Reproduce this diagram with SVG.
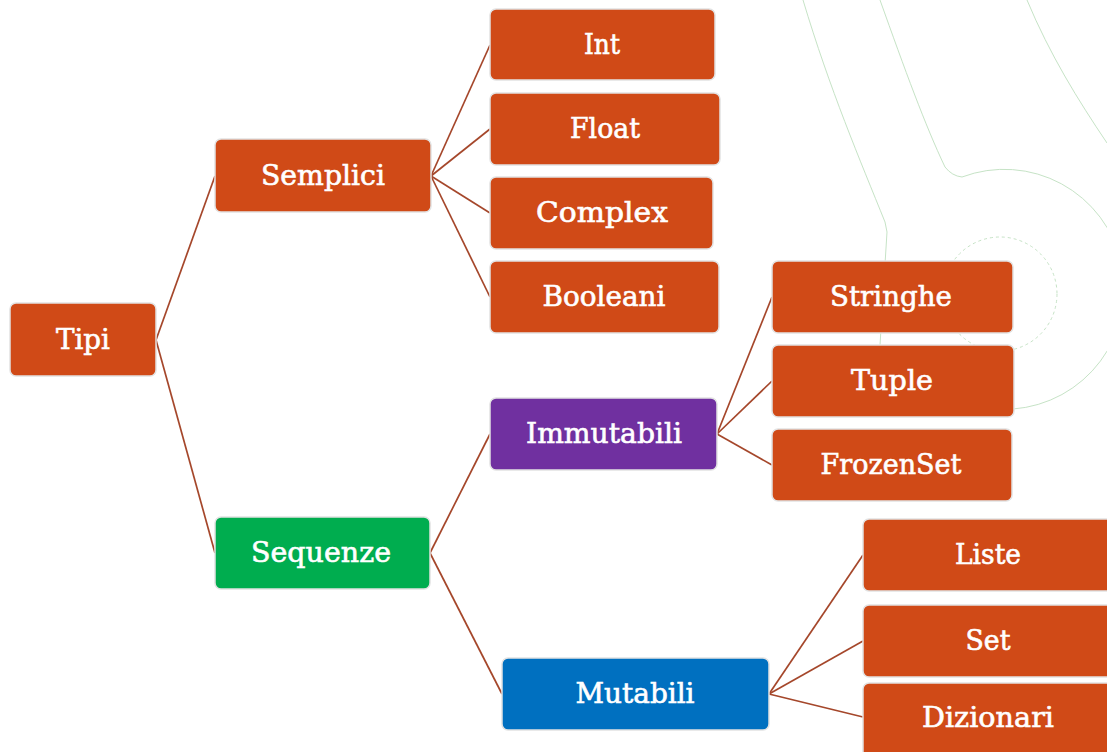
<svg xmlns="http://www.w3.org/2000/svg" width="1107" height="752" viewBox="0 0 1107 752">
<style>
.n rect{stroke:#e2e2e2;stroke-width:1.5}
.o{fill:#d04a17}
.g{fill:#00ad4f}
.p{fill:#7030a0}
.b{fill:#0070c0}
.n text{fill:#ffffff;stroke:#ffffff;stroke-width:0.6;font-family:"DejaVu Serif","Liberation Serif",serif;font-size:27px;text-anchor:middle}
#connectors line{stroke:#a5472b;stroke-width:1.7}
.bg{fill:none;stroke:#c6e3c6;stroke-width:1}
</style>
<rect width="1107" height="752" fill="#ffffff"/>
<g id="background">
<path class="bg" d="M803,0 C830,90 860,160 885,222 L887,232 L880,345"/>
<path class="bg" d="M880,0 C905,70 925,125 945,167 Q952,176 962,177 A120,120 0 1 1 1013,409"/>
<path class="bg" d="M1027,0 C1050,55 1078,100 1107,143"/>
<circle class="bg" cx="1000" cy="294" r="57" stroke-dasharray="3 3"/>
</g>
<g id="connectors">
<line x1="156" y1="340" x2="215" y2="176"/>
<line x1="156" y1="340" x2="215" y2="553"/>
<line x1="431" y1="176" x2="490" y2="45"/>
<line x1="431" y1="176" x2="490" y2="129"/>
<line x1="431" y1="176" x2="490" y2="213"/>
<line x1="431" y1="176" x2="490" y2="297"/>
<line x1="430" y1="553" x2="490" y2="434"/>
<line x1="430" y1="553" x2="502" y2="694"/>
<line x1="717" y1="434" x2="772" y2="297"/>
<line x1="717" y1="434" x2="772" y2="381"/>
<line x1="717" y1="434" x2="772" y2="465"/>
<line x1="769" y1="694" x2="863" y2="555"/>
<line x1="769" y1="694" x2="863" y2="641"/>
<line x1="769" y1="694" x2="863" y2="717"/>
</g>
<g id="tipi" class="n"><rect class="o" x="10" y="303" width="146" height="73" rx="6"/><text x="83" y="349" textLength="54" lengthAdjust="spacingAndGlyphs">Tipi</text></g>
<g id="semplici" class="n"><rect class="o" x="215" y="139" width="216" height="73" rx="6"/><text x="323" y="185" textLength="124" lengthAdjust="spacingAndGlyphs">Semplici</text></g>
<g id="sequenze" class="n"><rect class="g" x="215" y="517" width="215" height="72" rx="6"/><text x="321" y="562" textLength="140" lengthAdjust="spacingAndGlyphs">Sequenze</text></g>
<g id="int" class="n"><rect class="o" x="490" y="9" width="225" height="71" rx="6"/><text x="602" y="54" textLength="36" lengthAdjust="spacingAndGlyphs">Int</text></g>
<g id="float" class="n"><rect class="o" x="490" y="93" width="230" height="72" rx="6"/><text x="605" y="138" textLength="70" lengthAdjust="spacingAndGlyphs">Float</text></g>
<g id="complex" class="n"><rect class="o" x="490" y="177" width="223" height="72" rx="6"/><text x="602" y="222" textLength="132" lengthAdjust="spacingAndGlyphs">Complex</text></g>
<g id="booleani" class="n"><rect class="o" x="490" y="261" width="229" height="72" rx="6"/><text x="604" y="306" textLength="123" lengthAdjust="spacingAndGlyphs">Booleani</text></g>
<g id="immutabili" class="n"><rect class="p" x="490" y="398" width="227" height="72" rx="6"/><text x="604" y="443" textLength="156" lengthAdjust="spacingAndGlyphs">Immutabili</text></g>
<g id="mutabili" class="n"><rect class="b" x="502" y="658" width="267" height="72" rx="6"/><text x="635" y="703" textLength="119" lengthAdjust="spacingAndGlyphs">Mutabili</text></g>
<g id="stringhe" class="n"><rect class="o" x="772" y="261" width="241" height="72" rx="6"/><text x="891" y="306" textLength="122" lengthAdjust="spacingAndGlyphs">Stringhe</text></g>
<g id="tuple" class="n"><rect class="o" x="772" y="345" width="242" height="72" rx="6"/><text x="892" y="390" textLength="82" lengthAdjust="spacingAndGlyphs">Tuple</text></g>
<g id="frozenset" class="n"><rect class="o" x="772" y="429" width="240" height="72" rx="6"/><text x="891" y="474" textLength="141" lengthAdjust="spacingAndGlyphs">FrozenSet</text></g>
<g id="liste" class="n"><rect class="o" x="863" y="519" width="250" height="72" rx="6"/><text x="988" y="564" textLength="66" lengthAdjust="spacingAndGlyphs">Liste</text></g>
<g id="set" class="n"><rect class="o" x="863" y="605" width="250" height="72" rx="6"/><text x="988" y="650" textLength="45" lengthAdjust="spacingAndGlyphs">Set</text></g>
<g id="dizionari" class="n"><rect class="o" x="863" y="683" width="250" height="80" rx="6"/><text x="988" y="727" textLength="132" lengthAdjust="spacingAndGlyphs">Dizionari</text></g>
</svg>
